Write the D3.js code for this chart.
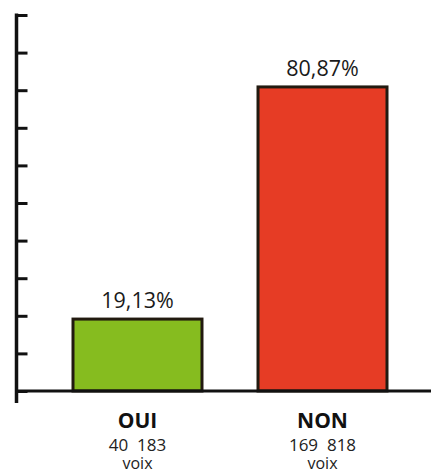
<!DOCTYPE html>
<html>
<head>
<meta charset="utf-8">
<script src="https://cdn.jsdelivr.net/npm/d3@7"></script>
<style>
  html, body { margin: 0; padding: 0; background: #fff; }
  svg { display: block; font-family: "Open Sans", sans-serif; }
</style>
</head>
<body>
<div id="chart"></div>
<script>
// referendum result
const categories = ['OUI', 'NON'];
const percents = [19.13, 80.87];
const votes = ['40\u00a0\u00a0183', '169\u00a0\u00a0818'];
const colors = ['#86bc1f', '#e63c25'];
const yTicks = d3.range(0, 101, 10);

const width = 431, height = 471;
const axisX = 16.5;
const baseY = 391;

const svg = d3.select('#chart')
    .append('svg')
    .attr('width', width)
    .attr('height', height);

const x = d3.scaleBand()
    .domain(categories)
    .range([72, 388])
    .paddingInner(0.292)
    .paddingOuter(0);

const y = d3.scaleLinear()
    .domain([0, 100])
    .range([baseY, 15]);

// bars
svg.selectAll('rect.bar')
    .data(categories)
    .enter()
    .append('rect')
    .attr('class', 'bar')
    .attr('x', (d) => x(d) + 1)
    .attr('y', (d, i) => y(percents[i]))
    .attr('width', x.bandwidth() - 2)
    .attr('height', (d, i) => y(0) - y(percents[i]))
    .attr('fill', (d, i) => colors[i])
    .attr('stroke', '#221a10')
    .attr('stroke-width', 3);

// value labels
svg.selectAll('text.val')
    .data(categories)
    .enter()
    .append('text')
    .attr('class', 'val')
    .attr('x', (d) => x(d) + x.bandwidth() / 2)
    .attr('y', (d, i) => y(percents[i]) - 11)
    .attr('text-anchor', 'middle')
    .attr('font-size', 21.5)
    .attr('fill', '#1a1a1a')
    .text((d, i) => percents[i].toFixed(2).replace('.', ',') + '%');

// baseline
svg.append('line')
    .attr('x1', axisX)
    .attr('x2', width)
    .attr('y1', baseY)
    .attr('y2', baseY)
    .attr('stroke', '#111')
    .attr('stroke-width', 3);

// y axis with inner ticks, no labels
const axis = svg.append('g')
    .attr('transform', `translate(${axisX},0)`)
    .call(d3.axisRight(y).tickValues(yTicks).tickSize(11).tickFormat(''));
axis.select('.domain').remove();
axis.selectAll('line').attr('stroke', '#111').attr('stroke-width', 3);
axis.append('line')
    .attr('x1', 0).attr('x2', 0)
    .attr('y1', y(100) - 1.5).attr('y2', 403)
    .attr('stroke', '#111')
    .attr('stroke-width', 3.5);

// category labels
const lab = svg.selectAll('g.lab')
    .data(categories)
    .enter()
    .append('g')
    .attr('class', 'lab')
    .attr('transform', (d) => `translate(${x(d) + x.bandwidth() / 2},0)`);
lab.append('text')
    .attr('y', 428)
    .attr('text-anchor', 'middle')
    .attr('font-size', 21)
    .attr('font-weight', 'bold')
    .attr('fill', '#111')
    .text((d) => d);
lab.append('text')
    .attr('y', 451)
    .attr('text-anchor', 'middle')
    .attr('font-size', 17)
    .attr('fill', '#222')
    .text((d, i) => votes[i]);
lab.append('text')
    .attr('y', 469)
    .attr('text-anchor', 'middle')
    .attr('font-size', 16)
    .attr('fill', '#222')
    .text('voix');
</script>
</body>
</html>
